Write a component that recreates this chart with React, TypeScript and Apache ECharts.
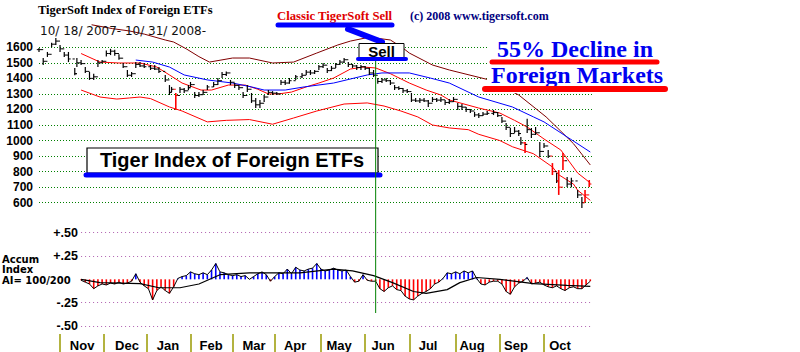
import React, { useEffect, useRef } from 'react';
import * as echarts from 'echarts';

// ---- x axis (trading days from 10/18/2007) ----
const monthNames = ['Nov', 'Dec', 'Jan', 'Feb', 'Mar', 'Apr', 'May', 'Jun', 'Jul', 'Aug', 'Sep', 'Oct'];
const monthStartDays = [10, 31, 51, 72, 92, 112, 134, 155, 176, 198, 219, 240];
const monthLabelDays = [20.5, 41.8, 61.3, 81.8, 102.2, 121.7, 142.6, 163.5, 184.9, 205.8, 226.7, 247.6];
const lastDay = 263;
const sellSignalDay = 160;

// ---- price bars: [day, low, high, close] ----
const priceBars = [
  [0, 1570, 1595, 1585], [2, 1486, 1531, 1510], [4, 1538, 1570, 1555], [6, 1600, 1630, 1620],
  [8, 1615, 1660, 1640], [10, 1570, 1615, 1590], [12, 1538, 1570, 1550], [14, 1505, 1570, 1525],
  [17, 1420, 1467, 1430], [18, 1473, 1531, 1500], [20, 1486, 1518, 1495], [22, 1435, 1473, 1445],
  [24, 1390, 1441, 1400], [26, 1390, 1430, 1410], [28, 1473, 1518, 1500], [30, 1499, 1518, 1510],
  [32, 1540, 1580, 1560], [34, 1550, 1590, 1575], [36, 1545, 1585, 1560], [38, 1520, 1555, 1530],
  [40, 1467, 1499, 1475], [42, 1409, 1454, 1420], [44, 1409, 1441, 1430], [46, 1467, 1505, 1490],
  [48, 1473, 1505, 1480], [50, 1467, 1499, 1475], [53, 1454, 1486, 1465], [55, 1454, 1486, 1460],
  [57, 1435, 1473, 1445], [60, 1377, 1422, 1390], [62, 1293, 1357, 1310], [63, 1312, 1345, 1330],
  [65, 1197, 1306, 1290], [67, 1306, 1345, 1330], [69, 1306, 1338, 1320], [71, 1325, 1357, 1340],
  [72, 1345, 1377, 1360], [74, 1274, 1312, 1290], [76, 1280, 1312, 1295], [78, 1293, 1325, 1310],
  [80, 1325, 1357, 1345], [83, 1345, 1377, 1360], [85, 1357, 1402, 1385], [87, 1402, 1441, 1425],
  [89, 1415, 1445, 1435], [91, 1357, 1390, 1375], [93, 1338, 1370, 1355], [95, 1325, 1357, 1340],
  [97, 1274, 1312, 1290], [99, 1312, 1357, 1330], [101, 1242, 1306, 1255], [103, 1209, 1274, 1230],
  [105, 1209, 1261, 1240], [107, 1248, 1293, 1280], [109, 1293, 1325, 1310], [111, 1293, 1318, 1305],
  [113, 1293, 1312, 1300], [115, 1357, 1390, 1375], [117, 1357, 1390, 1370], [119, 1365, 1402, 1385],
  [122, 1390, 1422, 1410], [125, 1402, 1435, 1420], [127, 1422, 1454, 1440], [129, 1422, 1454, 1435],
  [131, 1428, 1454, 1445], [133, 1454, 1486, 1475], [135, 1467, 1499, 1485], [137, 1435, 1467, 1450],
  [139, 1447, 1480, 1465], [141, 1467, 1499, 1490], [143, 1486, 1518, 1505], [145, 1499, 1531, 1520],
  [147, 1473, 1505, 1490], [149, 1467, 1492, 1480], [151, 1454, 1486, 1470], [153, 1454, 1486, 1475],
  [155, 1454, 1480, 1465], [157, 1422, 1467, 1435], [159, 1409, 1454, 1420], [161, 1365, 1402, 1380],
  [163, 1370, 1402, 1390], [165, 1377, 1402, 1385], [167, 1357, 1390, 1370], [169, 1325, 1357, 1340],
  [171, 1325, 1350, 1335], [173, 1306, 1338, 1320], [175, 1306, 1332, 1315], [177, 1248, 1306, 1260],
  [179, 1248, 1274, 1255], [181, 1242, 1274, 1260], [183, 1248, 1274, 1255], [185, 1216, 1261, 1240],
  [187, 1248, 1280, 1265], [189, 1248, 1274, 1260], [191, 1248, 1280, 1262], [193, 1229, 1261, 1245],
  [195, 1235, 1267, 1250], [197, 1248, 1280, 1265], [199, 1197, 1242, 1220], [201, 1197, 1235, 1215],
  [203, 1184, 1216, 1200], [205, 1177, 1203, 1190], [207, 1152, 1184, 1165], [209, 1145, 1177, 1160],
  [211, 1158, 1184, 1170], [213, 1164, 1190, 1175], [216, 1164, 1197, 1180], [218, 1152, 1184, 1160],
  [220, 1113, 1152, 1125], [222, 1068, 1113, 1085], [224, 1023, 1081, 1045], [226, 1049, 1087, 1060],
  [228, 1030, 1068, 1045], [229, 971, 1023, 985], [231, 920, 990, 975], [232, 1049, 1140, 1070],
  [234, 1016, 1081, 1040], [236, 1036, 1087, 1050], [238, 894, 990, 930], [240, 952, 984, 965],
  [242, 887, 939, 900], [244, 778, 855, 800], [246, 726, 791, 740], [247, 650, 810, 700],
  [249, 810, 920, 870], [251, 701, 765, 720], [253, 700, 760, 740], [256, 631, 682, 650],
  [258, 566, 637, 600], [259.5, 605, 682, 650], [261.5, 701, 746, 720],
];
const redBarDays = [65, 231, 244, 247, 249, 259.5, 261.5];

// ---- moving average / bands: [day, value] ----
const redMA = [
  [20, 1560], [29, 1505], [38, 1499], [48, 1499], [56, 1473], [62, 1422], [68, 1370], [77, 1325],
  [82, 1325], [90, 1357], [98, 1357], [104, 1330], [109, 1300], [114, 1300], [120, 1312], [127, 1345],
  [133, 1370], [140, 1402], [148, 1460], [154, 1473], [160, 1467], [167, 1430], [176, 1370], [184, 1325],
  [191, 1293], [195, 1261], [209, 1209], [219, 1177], [226, 1130], [232, 1087], [240, 1010], [248, 939],
  [256, 791], [262, 727],
];
const blueMA = [
  [46, 1518], [54, 1505], [62, 1473], [69, 1422], [80, 1390], [92, 1370], [101, 1345], [107, 1325],
  [117, 1325], [126, 1345], [140, 1370], [156, 1422], [163, 1435], [176, 1435], [186, 1402], [195, 1370],
  [209, 1280], [225, 1216], [235, 1152], [240, 1120], [251, 1023], [262, 926],
];
const lowerBand = [
  [20, 1325], [29, 1280], [37, 1267], [43, 1274], [48, 1280], [53, 1270], [62, 1216], [68, 1190],
  [80, 1120], [89, 1130], [100, 1135], [111, 1105], [121, 1145], [132, 1190], [145, 1235], [156, 1242],
  [164, 1222], [172, 1190], [180, 1152], [187, 1100], [195, 1081], [204, 1070], [209, 1040], [219, 1000],
  [225, 960], [235, 915], [244, 830], [247, 780], [254, 720], [256, 680], [262, 615],
];
const upperBand = [
  [25, 1745], [35, 1720], [43, 1705], [50, 1685], [60, 1647], [64, 1634], [70, 1590], [76, 1540],
  [81, 1505], [92, 1531], [100, 1531], [111, 1499], [121, 1505], [132, 1563], [142, 1615], [148, 1640],
  [157, 1665], [167, 1647], [173, 1595], [176, 1563], [187, 1486], [195, 1454], [214, 1390], [228, 1293],
  [241, 1152], [248, 1060], [254, 980], [262, 843],
];

// ---- Accumulation index (every 2nd trading day from day 20) ----
const aiStartDay = 20;
const aiStep = 2;
const aiValues = [
  -0.01, -0.03, -0.05, -0.10, -0.07, -0.05, -0.06, -0.04, -0.05, -0.03,
  -0.05, -0.04, -0.02, 0.06, -0.03, -0.07, -0.10, -0.22, -0.12, -0.08,
  -0.12, -0.15, -0.08, 0.01, 0.03, 0.04, 0.08, 0.06, 0.05, 0.07,
  0.05, 0.10, 0.17, 0.08, 0.07, 0.05, 0.04, 0.05, 0.03, 0.04,
  0.00, 0.03, 0.06, 0.08, 0.05, -0.02, 0.03, 0.07, 0.06, 0.11,
  0.06, 0.13, 0.10, 0.09, 0.11, 0.12, 0.17, 0.11, 0.09, 0.10,
  0.12, 0.10, 0.09, 0.10, 0.03, -0.03, -0.02, 0.05, -0.01, -0.02,
  -0.02, -0.10, -0.13, -0.09, -0.07, -0.11, -0.12, -0.18, -0.21, -0.22,
  -0.18, -0.15, -0.13, -0.10, -0.05, -0.03, 0.01, 0.07, 0.06, 0.08,
  0.06, 0.09, 0.07, 0.09, 0.01, -0.05, -0.06, -0.03, -0.02, -0.02,
  -0.05, -0.13, -0.16, -0.08, -0.04, -0.02, 0.02, -0.05, -0.04, -0.03,
  -0.06, -0.08, -0.09, -0.07, -0.10, -0.12, -0.09, -0.08, -0.10, -0.10,
  -0.06, -0.02,
];
const aiMA = [
  [20, 0.0], [29, -0.035], [48, -0.045], [57, -0.09], [67, -0.09], [76, -0.05], [86, 0.05], [100, 0.07],
  [124, 0.07], [140, 0.11], [149, 0.09], [159, 0.04], [168, -0.035], [178, -0.13], [184, -0.15],
  [194, -0.11], [200, -0.035], [208, 0.02], [219, 0.0], [235, -0.045], [251, -0.065], [262, -0.075],
];
const aiAxisValues = [-0.5, -0.25, 0.25, 0.5];
const aiAxisLabels = ['-.50', '-.25', '+.25', '+.50'];

const SANS = '"Liberation Sans", Arial, sans-serif';
const SERIF = '"Liberation Serif", "Times New Roman", serif';

function txt(id: string, text: string, x: number, y: number, font: string, fill: string, align = 'left') {
  return {
    id, type: 'text', x, y, z: 60,
    style: { text, font, fill, textAlign: align, textVerticalAlign: 'middle', align, verticalAlign: 'middle' },
  };
}
function seg(id: string, x1: number, y1: number, x2: number, y2: number, stroke: string, w: number, z = 60) {
  return {
    id, type: 'line', z,
    shape: { x1, y1, x2, y2 },
    style: { stroke, lineWidth: w, lineCap: 'round' },
  };
}

export default function App() {
  const ref = useRef<HTMLDivElement>(null);
  useEffect(() => {
    const chart = echarts.init(ref.current!, null, { renderer: 'svg' });

    const barRows = priceBars.map((b, i) => [
      b[0], b[1], b[2], b[3], i > 0 ? priceBars[i - 1][3] : b[3], redBarDays.includes(b[0]) ? 1 : 0,
    ]);
    const aiData = aiValues.map((v, i) => [aiStartDay + i * aiStep, v]);

    const lineSeries = (name: string, data: number[][], color: string, w = 1) => ({
      name, type: 'line', xAxisIndex: 0, yAxisIndex: 0, data, symbol: 'none', clip: false,
      lineStyle: { color, width: w }, silent: true, z: 2,
    });

    const option: any = {
      animation: false,
      backgroundColor: '#fff',
      grid: [
        { left: 39, right: 207.6, top: 47.3, height: 155.4 },
        { left: 39, right: 207.6, top: 232.7, height: 94 },
      ],
      xAxis: [
        { type: 'value', gridIndex: 0, min: 0, max: lastDay, show: false },
        {
          type: 'value', gridIndex: 1, min: 0, max: lastDay, position: 'bottom', offset: 8,
          axisLine: { show: false, onZero: false },
          axisTick: { show: true, customValues: monthStartDays, length: 18, lineStyle: { color: '#9a9a00', width: 1.5 } },
          axisLabel: {
            customValues: monthLabelDays,
            formatter: (v: number) => {
              const i = monthLabelDays.indexOf(v);
              return i >= 0 ? monthNames[i] : '';
            },
            color: '#000', fontWeight: 'bold', fontSize: 13, fontFamily: SANS, margin: 5,
          },
          splitLine: { show: false },
        },
      ],
      yAxis: [
        {
          type: 'value', gridIndex: 0, min: 600, max: 1600, interval: 100,
          axisLine: { show: false }, axisTick: { show: false },
          axisLabel: {
            formatter: (v: number) => String(v),
            color: '#000', fontWeight: 'bold', fontSize: 12, fontFamily: SANS, margin: 6,
          },
          splitLine: { show: true, lineStyle: { color: '#008000', type: [1, 2], width: 1 } },
        },
        {
          type: 'value', gridIndex: 1, min: -0.5, max: 0.5, interval: 0.25,
          axisLine: { show: false }, axisTick: { show: false },
          axisLabel: {
            formatter: (v: number) => {
              const i = aiAxisValues.findIndex((a) => Math.abs(a - v) < 1e-9);
              return i >= 0 ? aiAxisLabels[i] : '';
            },
            color: '#000', fontWeight: 'bold', fontSize: 12.5, fontFamily: SANS, margin: -39,
          },
          splitLine: { show: false },
        },
      ],
      series: [
        lineSeries('upperBand', upperBand, '#800000'),
        lineSeries('lowerBand', lowerBand, '#ff0000'),
        lineSeries('redMA', redMA, '#ff0000'),
        lineSeries('blueMA', blueMA, '#0000ff'),
        {
          name: 'price', type: 'custom', xAxisIndex: 0, yAxisIndex: 0, clip: false, silent: true, z: 5,
          data: barRows,
          encode: { x: 0, y: [1, 2, 3] },
          renderItem: (params: any, api: any) => {
            const d = api.value(0);
            const lo = api.coord([d, api.value(1)]);
            const hi = api.coord([d, api.value(2)]);
            const cl = api.coord([d, api.value(3)]);
            const op = api.coord([d, api.value(4)]);
            const red = api.value(5) === 1;
            const color = red ? '#ff0000' : '#000';
            const w = red ? 1.6 : 1.2;
            return {
              type: 'group',
              children: [
                { type: 'line', shape: { x1: lo[0], y1: lo[1], x2: hi[0], y2: hi[1] }, style: { stroke: color, lineWidth: w } },
                { type: 'line', shape: { x1: cl[0], y1: cl[1], x2: cl[0] + 2.2, y2: cl[1] }, style: { stroke: color, lineWidth: 1 } },
                { type: 'line', shape: { x1: op[0] - 2.2, y1: op[1], x2: op[0], y2: op[1] }, style: { stroke: color, lineWidth: 1 } },
              ],
            };
          },
        },
        {
          name: 'aiBars', type: 'bar', xAxisIndex: 1, yAxisIndex: 1, data: aiData, barWidth: 1.6, silent: true,
          itemStyle: { color: (p: any) => (p.value[1] >= 0 ? '#0000ff' : '#ff0000') },
        },
        {
          name: 'aiTrace', type: 'line', xAxisIndex: 1, yAxisIndex: 1, data: aiData, symbol: 'none', silent: true,
          lineStyle: { color: '#000', width: 1 }, z: 4,
          markLine: {
            silent: true, symbol: 'none', label: { show: false },
            lineStyle: { color: '#b060b0', type: [1, 3], width: 1 },
            data: aiAxisValues.map((v) => [{ coord: [aiStartDay, v] }, { coord: [lastDay, v] }]),
          },
        },
        {
          name: 'aiMA', type: 'line', xAxisIndex: 1, yAxisIndex: 1, data: aiMA, symbol: 'none', silent: true,
          lineStyle: { color: '#000', width: 1.2 }, z: 4,
        },
      ],
      graphic: {
        elements: [
          { id: 'bg55', type: 'rect', z: 50, shape: { x: 487, y: 35, width: 182, height: 58 }, style: { fill: '#fff' } },
          txt('t55', '55% Decline in', 497, 49, `bold 24px ${SERIF}`, '#0000f0'),
          txt('tFM', 'Foreign Markets', 491, 75, `bold 24px ${SERIF}`, '#0000f0'),
          seg('u55', 492, 62, 657, 62, '#ff0000', 5),
          seg('uFM', 485, 89, 665, 89, '#ff0000', 6),
          txt('title', 'TigerSoft Index of Foreign ETFs', 38, 9.5, `bold 12.5px ${SERIF}`, '#000'),
          txt('dates', '10/ 18/ 2007- 10/ 31/ 2008-', 40, 31, '12px "DejaVu Sans", sans-serif', '#111'),
          txt('classic', 'Classic TigerSoft Sell', 277, 15.5, `bold 12.7px ${SERIF}`, '#e00000'),
          txt('copy', '(c) 2008 www.tigersoft.com', 410, 16, `bold 12px ${SERIF}`, '#000080'),
          seg('uClassic', 278, 25, 392, 25, '#0000ff', 5),
          seg('diag', 348, 29, 382, 42, '#0000ff', 6),
          { id: 'sellBox', type: 'rect', z: 61, shape: { x: 359, y: 43.5, width: 45, height: 14 }, style: { fill: '#fff', stroke: '#000', lineWidth: 1 } },
          { ...txt('sellTxt', 'Sell', 381.5, 51, `bold 15px ${SANS}`, '#000', 'center'), z: 62 },
          seg('uSell', 358, 59, 406, 59, '#0000ff', 4, 62),
          { id: 'tigerBox', type: 'rect', z: 55, shape: { x: 87, y: 148, width: 291, height: 25 }, style: { fill: '#fff', stroke: '#000', lineWidth: 1.2 } },
          { ...txt('tigerTxt', 'Tiger Index of Foreign ETFs', 232, 160, `bold 20px ${SANS}`, '#000', 'center'), z: 56 },
          seg('uTiger', 86, 175, 380, 175, '#0000ff', 5, 57),
          {
            id: 'accum', type: 'text', x: 2, y: 254, z: 60,
            style: {
              text: 'Accum\nIndex\nAI= 100/200', font: 'bold 10px "DejaVu Sans", sans-serif', fill: '#000',
              lineHeight: 10.5, textAlign: 'left', textVerticalAlign: 'top', align: 'left', verticalAlign: 'top',
            },
          },
        ],
      },
    };
    chart.setOption(option);
    const sx = chart.convertToPixel({ xAxisIndex: 0 }, sellSignalDay) as unknown as number;
    chart.setOption({
      graphic: {
        elements: [
          { id: 'sellLine', type: 'line', z: 58, shape: { x1: sx, y1: 59, x2: sx, y2: 313 }, style: { stroke: '#008000', lineWidth: 1 } },
        ],
      },
    });
    return () => chart.dispose();
  }, []);
  return <div ref={ref} style={{ position: 'absolute', left: 0, top: 0, width: 800, height: 352 }} />;
}
